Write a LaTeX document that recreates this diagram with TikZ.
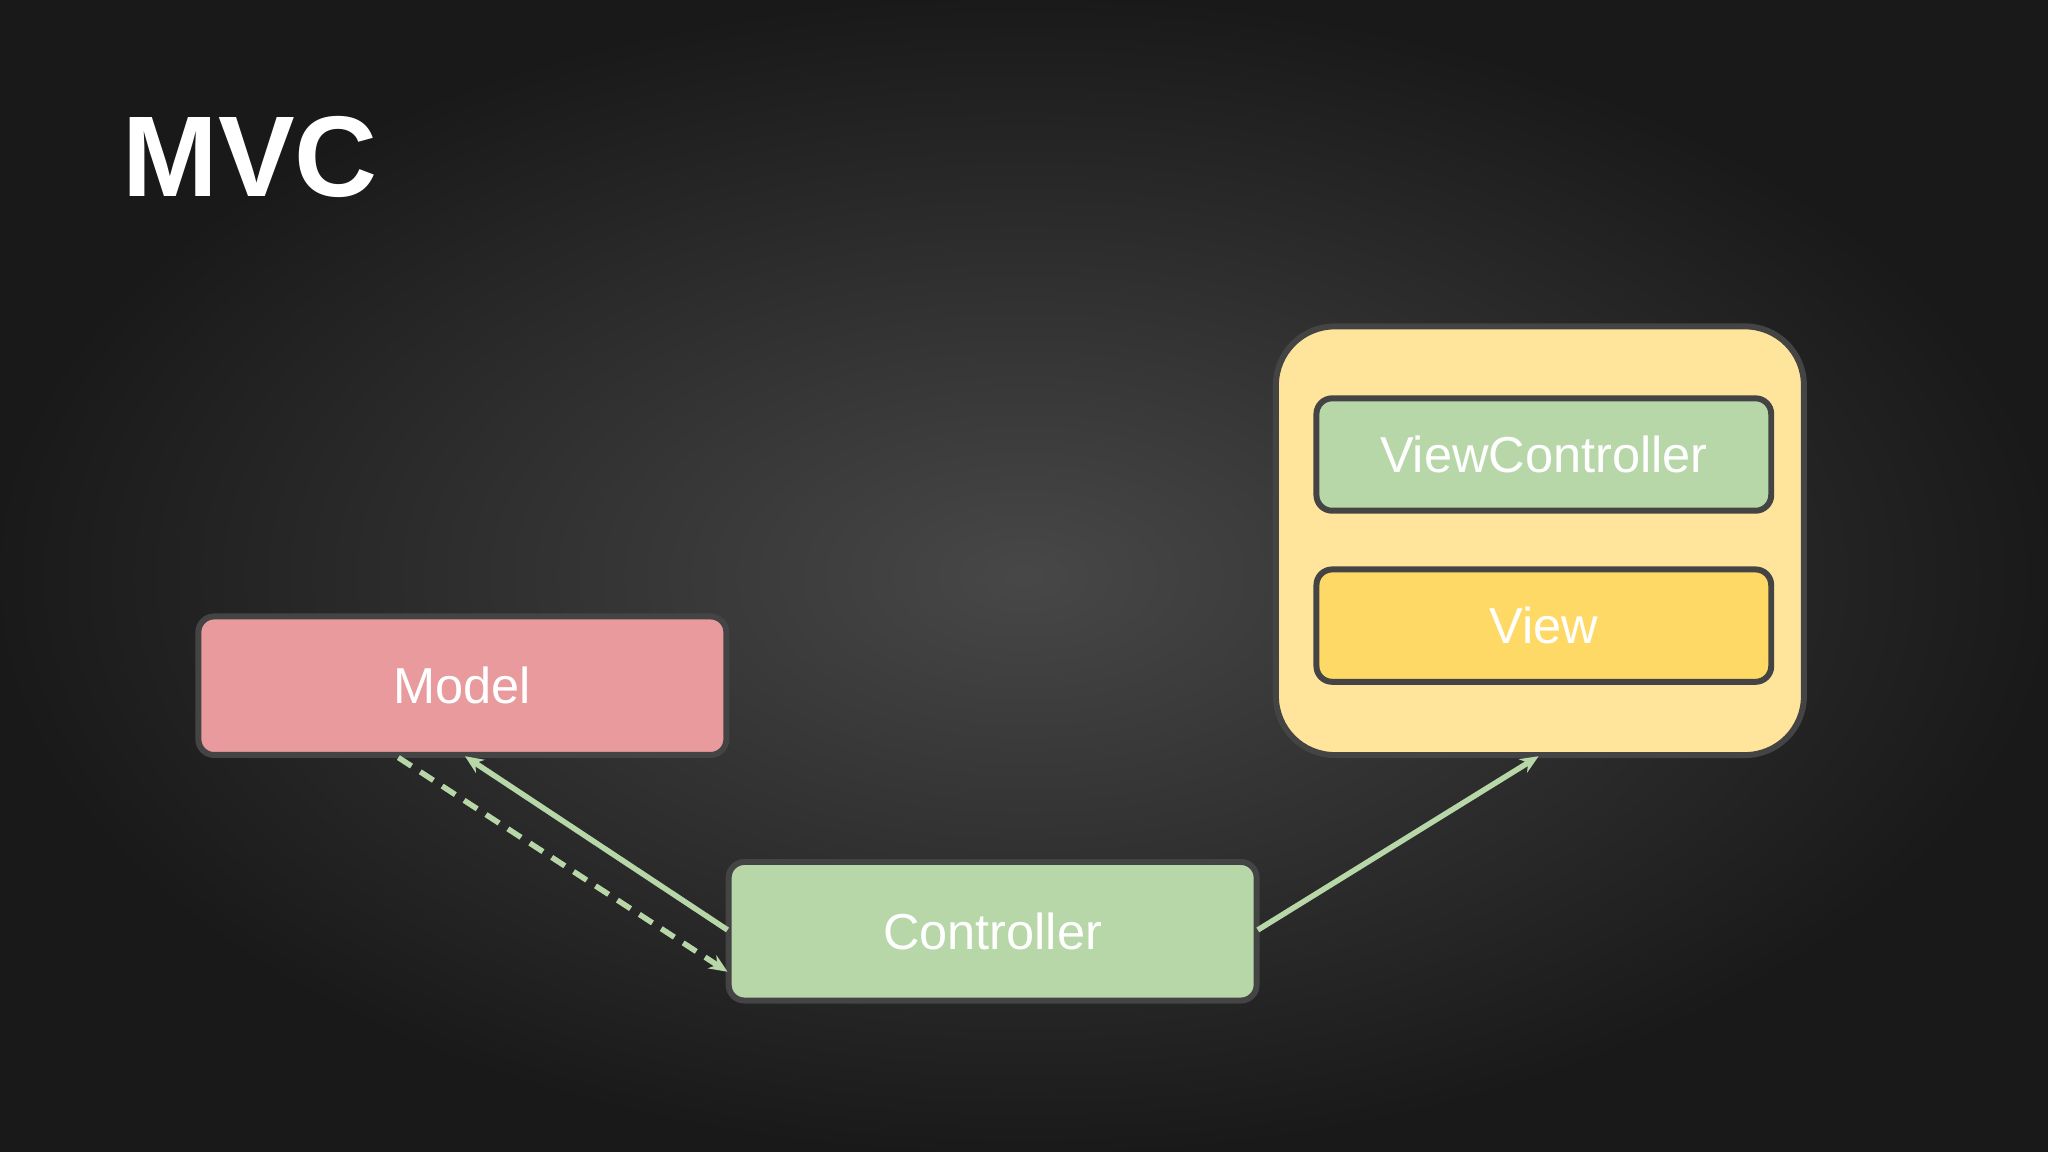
\documentclass[tikz,border=0pt]{standalone}
\usepackage{fontspec}
\setmainfont{Liberation Sans}
\usetikzlibrary{arrows.meta}
\definecolor{mred}{HTML}{E89A9C}
\definecolor{mgreen}{HTML}{B8D7A8}
\definecolor{myel}{HTML}{FFE59C}
\definecolor{mview}{HTML}{FFD966}
\definecolor{mborder}{HTML}{444444}
\tikzset{
  box/.style={draw=mborder,line width=1.3pt,rounded corners=0.12cm,text=white,font=\fontsize{11}{13}\selectfont,inner sep=0pt},
  conn/.style={draw=mgreen,line width=1.2pt,-{Stealth[length=0.14cm,width=0.12cm]}}
}
\begin{document}
\begin{tikzpicture}[x=0.01cm,y=-0.01cm]
\useasboundingbox (0,0) rectangle (1568,882);
\shade[inner color=black!72,outer color=black!90] (0,0) rectangle (1568,882);
\node[anchor=west,text=white,font=\bfseries\fontsize{25}{30}\selectfont,inner sep=0pt] (title) at (93,120) {MVC};
\node[box,fill=mred,minimum width=4.04cm,minimum height=1.06cm] (model) at (354,525) {Model};
\node[box,fill=mgreen,minimum width=4.04cm,minimum height=1.06cm] (ctrl) at (760,713) {Controller};
\node[box,fill=myel,rounded corners=0.45cm,minimum width=4.04cm,minimum height=3.28cm] (outer) at (1179,414) {};
\node[box,fill=mgreen,minimum width=3.48cm,minimum height=0.86cm] (vc) at (1182,348) {ViewController};
\node[box,fill=mview,minimum width=3.48cm,minimum height=0.86cm] (view) at (1182,479) {View};
\coordinate (m1) at (305,580);
\coordinate (m2) at (356,579);
\coordinate (c1) at (557,744);
\coordinate (c2) at (557,712);
\coordinate (c3) at (963,712);
\coordinate (o1) at (1178,579);
\draw[conn] (c2) -- (m2);
\draw[conn,dashed,dash pattern=on 0.12cm off 0.08cm] (m1) -- (c1);
\draw[conn] (c3) -- (o1);
\end{tikzpicture}
\end{document}
